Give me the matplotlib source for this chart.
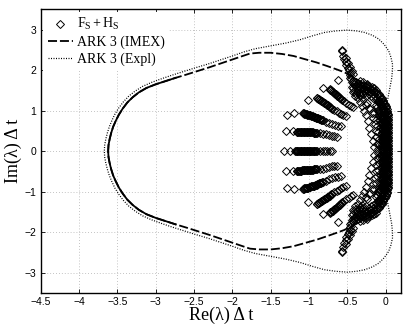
import numpy as np
import matplotlib
matplotlib.use("Agg")
import matplotlib.pyplot as plt

plt.rcParams['mathtext.fontset'] = 'custom'
plt.rcParams['mathtext.rm'] = 'Liberation Serif'
plt.rcParams['mathtext.it'] = 'Liberation Serif:italic'

# ---- stability boundaries (upper half, from leftmost point on y=0 rightwards) ----
imex_x = [-3.62, -3.615, -3.60, -3.58, -3.555, -3.52, -3.48, -3.43, -3.37, -3.30,
          -3.22, -3.12, -3.00, -2.87, -2.74, -2.60, -2.45, -2.30, -2.16, -2.02,
          -1.88, -1.77, -1.65, -1.50, -1.35, -1.20, -1.05, -0.90, -0.76, -0.64,
          -0.54, -0.46, -0.38, -0.30]
imex_y = [0.00, 0.15, 0.30, 0.45, 0.60, 0.75, 0.90, 1.05, 1.20, 1.33,
          1.45, 1.56, 1.65, 1.73, 1.81, 1.89, 1.98, 2.07, 2.16, 2.25,
          2.34, 2.41, 2.43, 2.43, 2.40, 2.35, 2.27, 2.19, 2.10, 2.02,
          1.95, 1.87, 1.77, 1.67]

expl_x = [-3.67, -3.665, -3.65, -3.63, -3.605, -3.57, -3.53, -3.48, -3.42, -3.35,
          -3.27, -3.17, -3.05, -2.92, -2.78, -2.63, -2.48, -2.32, -2.16, -2.00,
          -1.85, -1.70, -1.50, -1.30, -1.12, -0.95, -0.80, -0.65, -0.50, -0.38,
          -0.27, -0.17, -0.09, -0.02, 0.04, 0.07, 0.09, 0.09, 0.08, 0.06,
          0.04, 0.02, 0.01, 0.00, -0.01, -0.02]
expl_y = [0.00, 0.15, 0.30, 0.45, 0.60, 0.76, 0.92, 1.07, 1.22, 1.36,
          1.48, 1.60, 1.70, 1.79, 1.88, 1.97, 2.06, 2.15, 2.25, 2.35,
          2.45, 2.53, 2.60, 2.67, 2.75, 2.85, 2.93, 2.97, 2.99, 2.97,
          2.93, 2.86, 2.77, 2.64, 2.48, 2.32, 2.15, 2.00, 1.80, 1.60,
          1.40, 1.20, 1.00, 0.70, 0.40, 0.00]

# ---- eigenvalues of F_S + H_S (upper half; complex conjugates mirrored) ----
ray0_x = [-1.33, -1.25, -1.18, -1.17, -1.16, -1.15, -1.14, -1.13, -1.12, -1.11,
          -1.10, -1.09, -1.08, -1.07, -1.06, -1.05, -1.04, -1.03, -1.02, -1.01,
          -1.00, -0.99, -0.98, -0.97, -0.96, -0.95, -0.94, -0.93, -0.92, -0.91,
          -0.90, -0.86, -0.82, -0.79, -0.76, -0.73, -0.70]
ray0_y = [0.0] * len(ray0_x)

ray1_x = [-1.30, -1.21, -1.16, -1.15, -1.14, -1.13, -1.12, -1.11, -1.10, -1.09,
          -1.08, -1.07, -1.06, -1.05, -1.04, -1.03, -1.02, -1.01, -1.00, -0.99,
          -0.98, -0.97, -0.96, -0.95, -0.94, -0.93, -0.92, -0.91, -0.90, -0.86,
          -0.82, -0.78, -0.74, -0.70, -0.67, -0.64]
ray1_y = [0.49, 0.49, 0.48, 0.48, 0.48, 0.48, 0.48, 0.48, 0.48, 0.47,
          0.47, 0.47, 0.47, 0.47, 0.47, 0.47, 0.47, 0.46, 0.46, 0.46,
          0.46, 0.46, 0.46, 0.46, 0.45, 0.45, 0.45, 0.45, 0.45, 0.44,
          0.43, 0.42, 0.40, 0.38, 0.37, 0.36]

ray2_x = [-1.29, -1.19, -1.08, -1.07, -1.06, -1.05, -1.04, -1.03, -1.02, -1.01,
          -1.00, -0.99, -0.98, -0.97, -0.96, -0.95, -0.94, -0.93, -0.92, -0.91,
          -0.90, -0.89, -0.88, -0.87, -0.86, -0.85, -0.84, -0.83, -0.82, -0.78,
          -0.74, -0.70, -0.66, -0.62, -0.58]
ray2_y = [0.90, 0.93, 0.93, 0.93, 0.92, 0.92, 0.91, 0.91, 0.90, 0.90,
          0.89, 0.89, 0.88, 0.87, 0.87, 0.86, 0.85, 0.85, 0.84, 0.83,
          0.83, 0.82, 0.81, 0.80, 0.80, 0.79, 0.78, 0.77, 0.76, 0.73,
          0.70, 0.67, 0.65, 0.63, 0.61]

ray3_x = [-1.01, -0.90, -0.89, -0.88, -0.87, -0.86, -0.85, -0.84, -0.83, -0.82,
          -0.81, -0.80, -0.79, -0.78, -0.77, -0.76, -0.75, -0.74, -0.73, -0.72,
          -0.71, -0.70, -0.67, -0.64, -0.61, -0.58, -0.55, -0.52]
ray3_y = [1.27, 1.31, 1.30, 1.29, 1.28, 1.27, 1.26, 1.24, 1.23, 1.22,
          1.21, 1.19, 1.18, 1.17, 1.15, 1.14, 1.13, 1.11, 1.10, 1.08,
          1.07, 1.05, 1.02, 0.99, 0.95, 0.91, 0.88, 0.86]

ray4_x = [-0.81, -0.73, -0.72, -0.71, -0.70, -0.69, -0.68, -0.67, -0.66, -0.65,
          -0.64, -0.63, -0.62, -0.61, -0.60, -0.59, -0.58, -0.57, -0.54, -0.51,
          -0.48, -0.45, -0.42]
ray4_y = [1.56, 1.53, 1.51, 1.50, 1.48, 1.47, 1.45, 1.43, 1.42, 1.40,
          1.38, 1.37, 1.35, 1.33, 1.32, 1.30, 1.29, 1.27, 1.23, 1.19,
          1.15, 1.11, 1.08]

spur_x = [-0.62, -0.57, -0.57, -0.55, -0.54, -0.52, -0.51, -0.49, -0.48, -0.47,
          -0.46, -0.52, -0.49, -0.46, -0.44, -0.43]
spur_y = [1.76, 2.50, 2.47, 2.36, 2.27, 2.20, 2.13, 2.06, 2.00, 1.94,
          1.88, 2.30, 2.18, 2.08, 1.98, 1.90]

hook_x = [-0.47, -0.45, -0.42, -0.39, -0.36, -0.33, -0.30, -0.27, -0.24, -0.21,
          -0.18, -0.15, -0.12, -0.09, -0.07, -0.05, -0.04, -0.03,
          -0.44, -0.41, -0.38, -0.35, -0.32, -0.29, -0.26, -0.23, -0.20, -0.17,
          -0.14, -0.11, -0.09, -0.07, -0.06,
          -0.40, -0.42, -0.41, -0.38, -0.34, -0.30, -0.27, -0.26, -0.29, -0.33,
          -0.36, -0.37, -0.35, -0.31,
          -0.43, -0.44, -0.43, -0.40, -0.36, -0.31, -0.26, -0.22, -0.19, -0.16,
          -0.13, -0.10, -0.24, -0.21, -0.18, -0.15, -0.12, -0.34, -0.29, -0.24]
hook_y = [1.80, 1.77, 1.74, 1.71, 1.68, 1.65, 1.63, 1.60, 1.58, 1.55,
          1.52, 1.48, 1.45, 1.40, 1.35, 1.30, 1.24, 1.18,
          1.70, 1.66, 1.63, 1.60, 1.57, 1.54, 1.51, 1.48, 1.45, 1.41,
          1.37, 1.32, 1.27, 1.21, 1.15,
          1.62, 1.55, 1.48, 1.42, 1.39, 1.40, 1.45, 1.51, 1.56, 1.56,
          1.52, 1.47, 1.44, 1.46,
          1.68, 1.58, 1.45, 1.36, 1.31, 1.32, 1.36, 1.40, 1.36, 1.32,
          1.28, 1.22, 1.64, 1.60, 1.58, 1.55, 1.52, 1.73, 1.70, 1.67]

colA_x = [0.03, 0.03, 0.03, 0.03, 0.03, 0.03, 0.03, 0.03, 0.03, 0.03,
          0.03, 0.03, 0.03, 0.03, 0.03, 0.03, 0.03, 0.03, 0.03, 0.03,
          0.03, 0.03, 0.03, 0.03, 0.025, 0.02, 0.02, 0.01, 0.00, -0.01,
          -0.03, -0.05, -0.08, -0.11, -0.15, -0.19]
colA_y = [0.00, 0.04, 0.08, 0.12, 0.16, 0.20, 0.24, 0.28, 0.32, 0.36,
          0.40, 0.44, 0.48, 0.52, 0.56, 0.60, 0.64, 0.68, 0.72, 0.76,
          0.80, 0.84, 0.88, 0.92, 0.96, 1.00, 1.04, 1.08, 1.12, 1.16,
          1.22, 1.28, 1.34, 1.40, 1.46, 1.52]

colE_x = [0.01, 0.01, 0.01, 0.01, 0.01, 0.01, 0.01, 0.01, 0.01, 0.01,
          0.01, 0.01, 0.01, 0.01, 0.01, 0.00, 0.00, 0.00, -0.01, -0.02,
          -0.03, -0.05, -0.07, -0.10]
colE_y = [0.03, 0.08, 0.13, 0.18, 0.23, 0.28, 0.33, 0.38, 0.43, 0.48,
          0.53, 0.58, 0.63, 0.68, 0.73, 0.78, 0.83, 0.88, 0.93, 0.99,
          1.05, 1.11, 1.17, 1.23]

colB_x = [0.00, 0.00, -0.01, -0.01, -0.01, -0.01, -0.01, -0.01, -0.01, -0.01,
          -0.01, -0.01, -0.01, -0.01, -0.01, -0.02, -0.02, -0.02, -0.02, -0.03,
          -0.03, -0.04, -0.05, -0.06, -0.08]
colB_y = [0.02, 0.07, 0.12, 0.17, 0.22, 0.27, 0.32, 0.37, 0.42, 0.47,
          0.52, 0.57, 0.62, 0.67, 0.72, 0.77, 0.82, 0.87, 0.92, 0.97,
          1.02, 1.07, 1.12, 1.17, 1.22]

colF_x = [-0.03, -0.03, -0.03, -0.03, -0.03, -0.03, -0.03, -0.03, -0.03, -0.03,
          -0.03, -0.03, -0.04, -0.04, -0.04, -0.05, -0.05, -0.06, -0.07, -0.08]
colF_y = [0.05, 0.10, 0.15, 0.20, 0.25, 0.30, 0.35, 0.40, 0.45, 0.50,
          0.55, 0.60, 0.65, 0.70, 0.75, 0.80, 0.85, 0.90, 0.95, 1.00]

colC_x = [-0.05, -0.05, -0.05, -0.05, -0.05, -0.05, -0.05, -0.05, -0.05, -0.05,
          -0.06, -0.06, -0.06, -0.07, -0.07, -0.08, -0.09, -0.10, -0.11, -0.13]
colC_y = [0.00, 0.06, 0.12, 0.18, 0.24, 0.30, 0.36, 0.42, 0.48, 0.54,
          0.60, 0.66, 0.72, 0.78, 0.84, 0.90, 0.96, 1.02, 1.08, 1.14]

colD_x = [-0.10, -0.15, -0.11, -0.17, -0.12, -0.19, -0.13, -0.21, -0.14, -0.23,
          -0.16, -0.25, -0.18, -0.28, -0.21, -0.31, -0.24,
          -0.08, -0.09, -0.10, -0.11, -0.13, -0.15, -0.20, -0.26, -0.33]
colD_y = [0.04, 0.10, 0.18, 0.26, 0.34, 0.42, 0.50, 0.58, 0.66, 0.74,
          0.82, 0.88, 0.94, 1.00, 1.06, 1.12, 1.18,
          0.14, 0.30, 0.46, 0.62, 0.78, 0.94, 1.04, 1.14, 1.22]

upper_x = (ray1_x + ray2_x + ray3_x + ray4_x + spur_x + hook_x
           + colA_x + colE_x + colB_x + colF_x + colC_x + colD_x)
upper_y = (ray1_y + ray2_y + ray3_y + ray4_y + spur_y + hook_y
           + colA_y + colE_y + colB_y + colF_y + colC_y + colD_y)

eig_x = np.array(ray0_x + upper_x + upper_x)
eig_y = np.array(ray0_y + upper_y + [-v for v in upper_y])

x_ticks = [-4.5, -4, -3.5, -3, -2.5, -2, -1.5, -1, -0.5, 0]
y_ticks = [-3, -2, -1, 0, 1, 2, 3]


def closed(xs, ys):
    # upper half (right->left) followed by its mirror image (left->right)
    X = list(reversed(xs)) + list(xs[1:])
    Y = list(reversed(ys)) + [-v for v in ys[1:]]
    return X, Y


# ---- figure ----
fig = plt.figure(figsize=(4.07, 3.26), dpi=100)
ax = fig.add_axes([0.1, 0.102, 0.885, 0.869])

ix, iy = closed(imex_x, imex_y)
ex, ey = closed(expl_x, expl_y)

ax.plot(eig_x, eig_y, linestyle='none', marker='D', markersize=4.3,
        markerfacecolor='none', markeredgecolor='black', markeredgewidth=0.7,
        label=r'$\mathrm{F_S + H_S}$', zorder=3)
ax.plot(ix, iy, color='black', lw=1.3, dashes=(5, 1.6),
        label='ARK 3 (IMEX)', zorder=2)
sx = [x for x in ix if x <= -2.7]
sy = [y for x, y in zip(ix, iy) if x <= -2.7]
ax.plot(sx, sy, color='black', lw=1.3, zorder=2)
ax.plot(ex, ey, color='black', lw=0.9, dashes=(0.8, 1.2),
        label='ARK 3 (Expl)', zorder=2)

ax.set_xlim(-4.5, 0.2)
ax.set_ylim(-3.5, 3.5)
ax.set_xticks(x_ticks)
ax.set_yticks(y_ticks)
ax.set_xticklabels([f'{t:g}'.replace('-', '\u2212') for t in x_ticks])
ax.set_yticklabels([f'{t:g}'.replace('-', '\u2212') for t in y_ticks])
ax.tick_params(direction='in', top=True, right=True, length=3, width=0.6,
               labelsize=7.5, pad=3)
for lab in ax.get_xticklabels() + ax.get_yticklabels():
    lab.set_family('Liberation Sans')
ax.grid(True, color='#b0b0b0', linestyle=(0, (1, 2.5)), linewidth=0.6)
ax.set_axisbelow(True)
for s in ax.spines.values():
    s.set_linewidth(1.0)

ax.set_xlabel('Re(\u03bb) \u0394 t', family='Liberation Serif', fontsize=13, labelpad=0)
ax.set_ylabel('Im(\u03bb) \u0394 t', family='Liberation Serif', fontsize=13, labelpad=2)

leg = ax.legend(loc='upper left', prop={'family': 'Liberation Serif', 'size': 10},
                frameon=True, fancybox=False, edgecolor='none', facecolor='white',
                framealpha=1.0, handlelength=1.8, handletextpad=0.3,
                borderaxespad=0.2, borderpad=0.3, labelspacing=0.25)

fig.savefig('out.png', dpi=100)
